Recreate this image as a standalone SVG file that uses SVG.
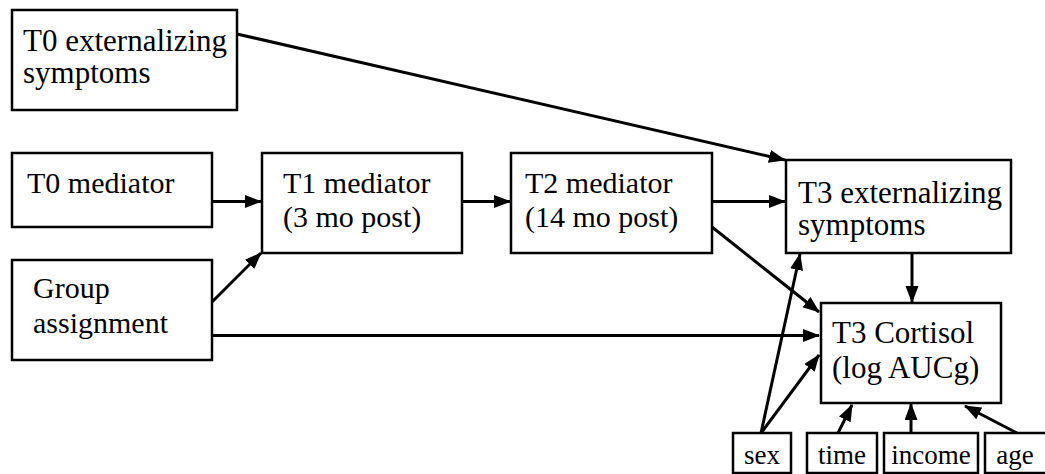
<svg xmlns="http://www.w3.org/2000/svg" width="1045" height="474" viewBox="0 0 1045 474">
<defs>
<marker id="ah" markerUnits="userSpaceOnUse" markerWidth="18" markerHeight="14" refX="16" refY="6.5" orient="auto" viewBox="0 0 18 14">
<path d="M0,0 L17,6.5 L0,13 z" fill="#000"/>
</marker>
</defs>
<rect width="1045" height="474" fill="#fff"/>
<g id="connectors" stroke="#000" stroke-width="3" fill="none">
<line x1="237" y1="34" x2="785" y2="160" marker-end="url(#ah)"/>
<line x1="212" y1="201.5" x2="261" y2="201.5" marker-end="url(#ah)"/>
<line x1="212" y1="302" x2="261" y2="253" marker-end="url(#ah)"/>
<line x1="462" y1="201.5" x2="510" y2="201.5" marker-end="url(#ah)"/>
<line x1="712" y1="201.5" x2="785" y2="201.5" marker-end="url(#ah)"/>
<line x1="712" y1="227" x2="819" y2="312" marker-end="url(#ah)"/>
<line x1="212" y1="335.5" x2="819" y2="335.5" marker-end="url(#ah)"/>
<line x1="761" y1="433" x2="800" y2="254" marker-end="url(#ah)"/>
<line x1="761" y1="433" x2="819" y2="355" marker-end="url(#ah)"/>
<line x1="912" y1="253" x2="912" y2="302" marker-end="url(#ah)"/>
<line x1="838" y1="433" x2="852" y2="405" marker-end="url(#ah)"/>
<line x1="911" y1="433" x2="911" y2="404" marker-end="url(#ah)"/>
<line x1="1017" y1="433" x2="965" y2="406" marker-end="url(#ah)"/>
</g>
<g id="t0ext"><rect x="12" y="10" width="225" height="100" fill="#fff" stroke="#000" stroke-width="2.5"/><text x="23" y="51" font-family="Liberation Serif" font-size="31">T0 externalizing</text><text x="23" y="83" font-family="Liberation Serif" font-size="31">symptoms</text></g>
<g id="t0med"><rect x="12" y="153" width="200" height="74" fill="#fff" stroke="#000" stroke-width="2.5"/><text x="27" y="193" font-family="Liberation Serif" font-size="30">T0 mediator</text></g>
<g id="group"><rect x="12" y="260" width="200" height="100" fill="#fff" stroke="#000" stroke-width="2.5"/><text x="33" y="298" font-family="Liberation Serif" font-size="30">Group</text><text x="33" y="333" font-family="Liberation Serif" font-size="30">assignment</text></g>
<g id="t1med"><rect x="262" y="153" width="200" height="100" fill="#fff" stroke="#000" stroke-width="2.5"/><text x="283" y="193" font-family="Liberation Serif" font-size="30">T1 mediator</text><text x="283" y="227" font-family="Liberation Serif" font-size="30">(3 mo post)</text></g>
<g id="t2med"><rect x="511" y="153" width="201" height="100" fill="#fff" stroke="#000" stroke-width="2.5"/><text x="525" y="193" font-family="Liberation Serif" font-size="30">T2 mediator</text><text x="525" y="227" font-family="Liberation Serif" font-size="30">(14 mo post)</text></g>
<g id="t3ext"><rect x="786" y="160" width="225" height="93" fill="#fff" stroke="#000" stroke-width="2.5"/><text x="798" y="203" font-family="Liberation Serif" font-size="31">T3 externalizing</text><text x="798" y="235" font-family="Liberation Serif" font-size="31">symptoms</text></g>
<g id="t3cort"><rect x="821" y="303" width="180" height="100" fill="#fff" stroke="#000" stroke-width="2.5"/><text x="832" y="343" font-family="Liberation Serif" font-size="31">T3 Cortisol</text><text x="832" y="378" font-family="Liberation Serif" font-size="31">(log AUCg)</text></g>
<g id="sex"><rect x="733" y="433" width="58" height="40" fill="#fff" stroke="#000" stroke-width="2.5"/><text x="762" y="464" text-anchor="middle" font-family="Liberation Serif" font-size="27">sex</text></g>
<g id="time"><rect x="807" y="433" width="70" height="40" fill="#fff" stroke="#000" stroke-width="2.5"/><text x="842" y="464" text-anchor="middle" font-family="Liberation Serif" font-size="27">time</text></g>
<g id="income"><rect x="884" y="433" width="94" height="40" fill="#fff" stroke="#000" stroke-width="2.5"/><text x="931" y="464" text-anchor="middle" font-family="Liberation Serif" font-size="27">income</text></g>
<g id="age"><rect x="985" y="433" width="62" height="40" fill="#fff" stroke="#000" stroke-width="2.5"/><text x="1015" y="464" text-anchor="middle" font-family="Liberation Serif" font-size="27">age</text></g>
</svg>
